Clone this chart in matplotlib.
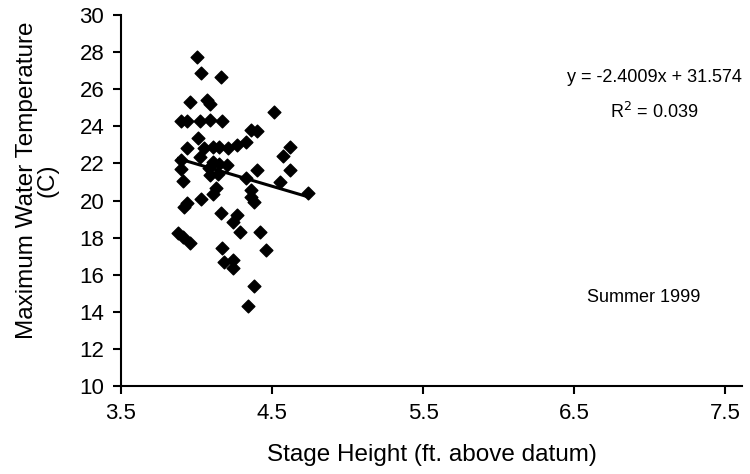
import numpy as np
import matplotlib.pyplot as plt

plt.rcParams['font.family'] = ['Liberation Sans', 'DejaVu Sans']

# stage height (ft) and max water temperature (C)
stage = [4.00, 4.03, 4.16, 3.96, 4.07, 4.09, 4.51, 3.90, 3.94, 4.02,
         4.09, 4.17, 4.36, 4.40, 4.33, 4.01, 3.94, 4.05, 4.11, 4.15,
         4.21, 4.27, 4.62, 4.57, 3.90, 4.02, 4.11, 3.90, 4.08, 4.15,
         4.20, 4.40, 4.33, 4.62, 4.55, 3.91, 4.09, 4.14, 4.13, 4.03,
         4.36, 4.36, 4.74, 3.94, 4.11, 3.92, 4.16, 4.27, 4.24, 4.38,
         4.29, 4.42, 3.88, 3.91, 3.96, 4.17, 4.46, 4.18, 4.24, 4.24,
         4.38, 4.34]
temp = [27.73, 26.87, 26.66, 25.31, 25.40, 25.20, 24.77, 24.29, 24.29, 24.29,
        24.37, 24.29, 23.80, 23.76, 23.17, 23.37, 22.83, 22.81, 22.90, 22.90,
        22.81, 22.99, 22.88, 22.40, 22.18, 22.34, 22.09, 21.70, 21.74, 21.97,
        21.91, 21.64, 21.20, 21.64, 21.01, 21.05, 21.37, 21.43, 20.65, 20.08,
        20.57, 20.20, 20.40, 19.87, 20.35, 19.67, 19.31, 19.22, 18.86, 19.94,
        18.32, 18.32, 18.23, 18.03, 17.69, 17.42, 17.33, 16.70, 16.79, 16.34,
        15.39, 14.31]

slope = -2.4009
intercept = 31.574
r_squared = 0.039

fig = plt.figure(figsize=(7.5, 4.74), dpi=100)
ax = fig.add_axes([0.1613, 0.186, 0.828, 0.782])

ax.scatter(stage, temp, marker='D', s=42, color='black', zorder=3)

# linear trendline over the range of the data
xs = np.array([min(stage), max(stage)])
ax.plot(xs, slope * xs + intercept, color='black', linewidth=2.2, zorder=4)

ax.set_xlim(3.5, 7.61)
ax.set_ylim(10, 30)
ax.set_xticks([3.5, 4.5, 5.5, 6.5, 7.5])
ax.set_yticks(range(10, 31, 2))

for side in ['top', 'right']:
    ax.spines[side].set_visible(False)
for side in ['left', 'bottom']:
    ax.spines[side].set_linewidth(1.5)
ax.tick_params(direction='out', length=6, width=1.5, labelsize=16, pad=6)

ax.set_xlabel("Stage Height (ft. above datum)", fontsize=17.5, labelpad=15)
ax.set_ylabel("Maximum Water Temperature\n(C)", fontsize=17.5,
              linespacing=0.92)
ax.yaxis.set_label_coords(-0.1, 0.555)

ax.text(7.03, 26.66, f"y = {slope}x + {intercept}", fontsize=13,
        ha='center', va='center')
ax.text(7.03, 24.77, f"R$^2$ = {r_squared}", fontsize=13,
        ha='center', va='center')
ax.text(6.96, 14.74, "Summer 1999", fontsize=13, ha='center', va='center')

fig.savefig("out.png", dpi=100)
